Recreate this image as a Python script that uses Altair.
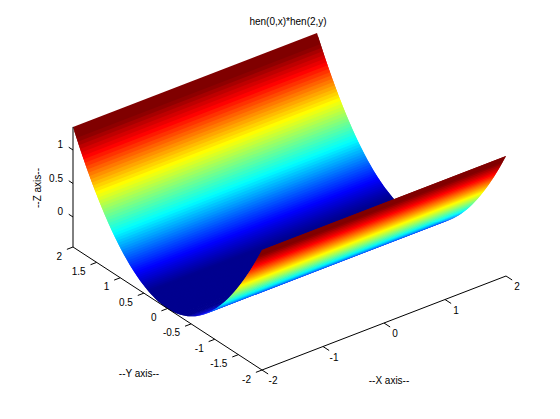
import altair as alt
import pandas as pd

# Height of the surface over y = 0, 0.025, ... 2 (the profile is symmetric in y)
z_half = [
    -0.4480, -0.4477, -0.4469, -0.4455, -0.4435, -0.4410, -0.4379, -0.4343, -0.4301, -0.4253,
    -0.4200, -0.4141, -0.4077, -0.4007, -0.3931, -0.3850, -0.3763, -0.3671, -0.3573, -0.3469,
    -0.3360, -0.3245, -0.3125, -0.2999, -0.2867, -0.2730, -0.2587, -0.2439, -0.2285, -0.2125,
    -0.1960, -0.1789, -0.1613, -0.1431, -0.1243, -0.1050, -0.0851, -0.0647, -0.0437, -0.0221,
    0.0000, 0.0227, 0.0459, 0.0697, 0.0941, 0.1190, 0.1445, 0.1705, 0.1971, 0.2243,
    0.2520, 0.2803, 0.3091, 0.3385, 0.3685, 0.3990, 0.4301, 0.4617, 0.4939, 0.5267,
    0.5600, 0.5939, 0.6283, 0.6633, 0.6989, 0.7350, 0.7717, 0.8089, 0.8467, 0.8851,
    0.9240, 0.9635, 1.0035, 1.0441, 1.0853, 1.1270, 1.1693, 1.2121, 1.2555, 1.2995,
    1.3440,
]
x_ticks = [-2, -1, 0, 1, 2]
y_ticks = [-2, -1.5, -1, -0.5, 0, 0.5, 1, 1.5, 2]
z_ticks = [0, 0.5, 1]
x_range = [-2, 2]
z_range = [-0.448, 1.344]
jet_stops = [-0.448, -0.376, -0.233, 0.143, 0.573, 0.986, 1.219, 1.344]
jet_colors = ["#00008f", "#00008f", "#0000ff", "#00ffff", "#ffff00", "#ff0000", "#800000", "#800000"]
title_text = "hen(0,x)*hen(2,y)"
x_title, y_title, z_title = "--X axis--", "--Y axis--", "--Z axis--"

W, H = 544, 403
FONT = "Liberation Sans"


def project(x, y, z):
    """Orthographic view of the data box, in chart pixels (page margin removed)."""
    px = 289.5 + 61.0 * x - 47.25 * y - 8
    py = 261.5 - 23.5 * x - 30.75 * y - 67.0 * (z - z_range[0]) - 8
    return px, py


# surface: strips painted from the far side (y=2) to the near side (y=-2);
# each strip runs on under the next one so no seam shows between them
z_values = z_half[:0:-1] + z_half
y_grid = [-2 + 0.025 * i for i in range(len(z_values))]
features = []
for i in range(len(z_values) - 1, 0, -1):
    a, b = i, max(i - 2, 0)
    ring = [
        project(x_range[0], y_grid[a], z_values[a]),
        project(x_range[1], y_grid[a], z_values[a]),
        project(x_range[1], y_grid[b], z_values[b]),
        project(x_range[0], y_grid[b], z_values[b]),
    ]
    ring = [list(p) for p in ring] + [list(ring[0])]
    features.append({
        "type": "Feature",
        "properties": {"z": (z_values[i] + z_values[i - 1]) / 2},
        "geometry": {"type": "Polygon", "coordinates": [ring]},
    })

jet = alt.Scale(domain=jet_stops, range=jet_colors, interpolate="rgb")
surface = alt.Chart(alt.Data(values=features)).mark_geoshape(strokeWidth=0).encode(
    fill=alt.Fill("properties.z:Q", scale=jet, legend=None),
).project(type="identity", scale=1, translate=[0, 0])

# axis lines and ticks
zb = z_range[0]
segments = [
    ((-2, -2, zb), (2, -2, zb)),
    ((-2, -2, zb), (-2, 2, zb)),
    ((-2, 2, zb), (-2, 2, z_range[1])),
]
for t in x_ticks:
    segments.append(((t, -2, zb), (t, -2.13, zb)))
for t in y_ticks:
    segments.append(((-2, t, zb), (-2.1, t, zb)))
for t in z_ticks:
    segments.append(((-2, 2, t), (-2, 2.09, t)))
rows = []
for p, q in segments:
    a, b = project(*p), project(*q)
    rows.append({"x": a[0], "y": a[1], "x2": b[0], "y2": b[1]})

xs = alt.Scale(domain=[0, W], range=[0, W], nice=False, zero=False)
ys = alt.Scale(domain=[0, H], range=[0, H], nice=False, zero=False)
X = alt.X("x:Q", scale=xs, axis=None)
Y = alt.Y("y:Q", scale=ys, axis=None)

rules = alt.Chart(pd.DataFrame(rows)).mark_rule(color="black", strokeWidth=1).encode(
    x=X, y=Y, x2="x2:Q", y2="y2:Q"
)


def labels(rows, align, angle=0):
    return alt.Chart(pd.DataFrame(rows)).mark_text(
        font=FONT, fontSize=10, color="black", align=align, baseline="middle", angle=angle
    ).encode(x=X, y=Y, text="t:N")


def fmt(v):
    return f"{v:g}"


def at(p, dx, dy, t):
    a = project(*p)
    return {"x": a[0] + dx, "y": a[1] + dy, "t": t}


x_lab = labels([at((t, -2, zb), 11, 11, fmt(t)) for t in x_ticks], "center")
y_lab = labels([at((-2, t, zb), -11, 9.5, fmt(t)) for t in y_ticks], "right")
z_lab = labels([at((-2, 2, t), -10, -4.5, fmt(t)) for t in z_ticks], "right")
titles = labels([
    {"x": 288 - 8, "y": 21.5 - 8, "t": title_text},
    {"x": 389 - 8, "y": 381 - 8, "t": x_title},
    {"x": 139 - 8, "y": 374 - 8, "t": y_title},
], "center")
z_t = labels([{"x": 38 - 8, "y": 188 - 8, "t": z_title}], "center", angle=270)

chart = alt.layer(surface, rules, x_lab, y_lab, z_lab, titles, z_t).properties(
    width=W, height=H, padding=0, autosize=alt.AutoSizeParams(type="none"),
    background="white",
).configure_view(stroke=None)

chart.save("out.html", embed_options={"renderer": "svg", "actions": False})
